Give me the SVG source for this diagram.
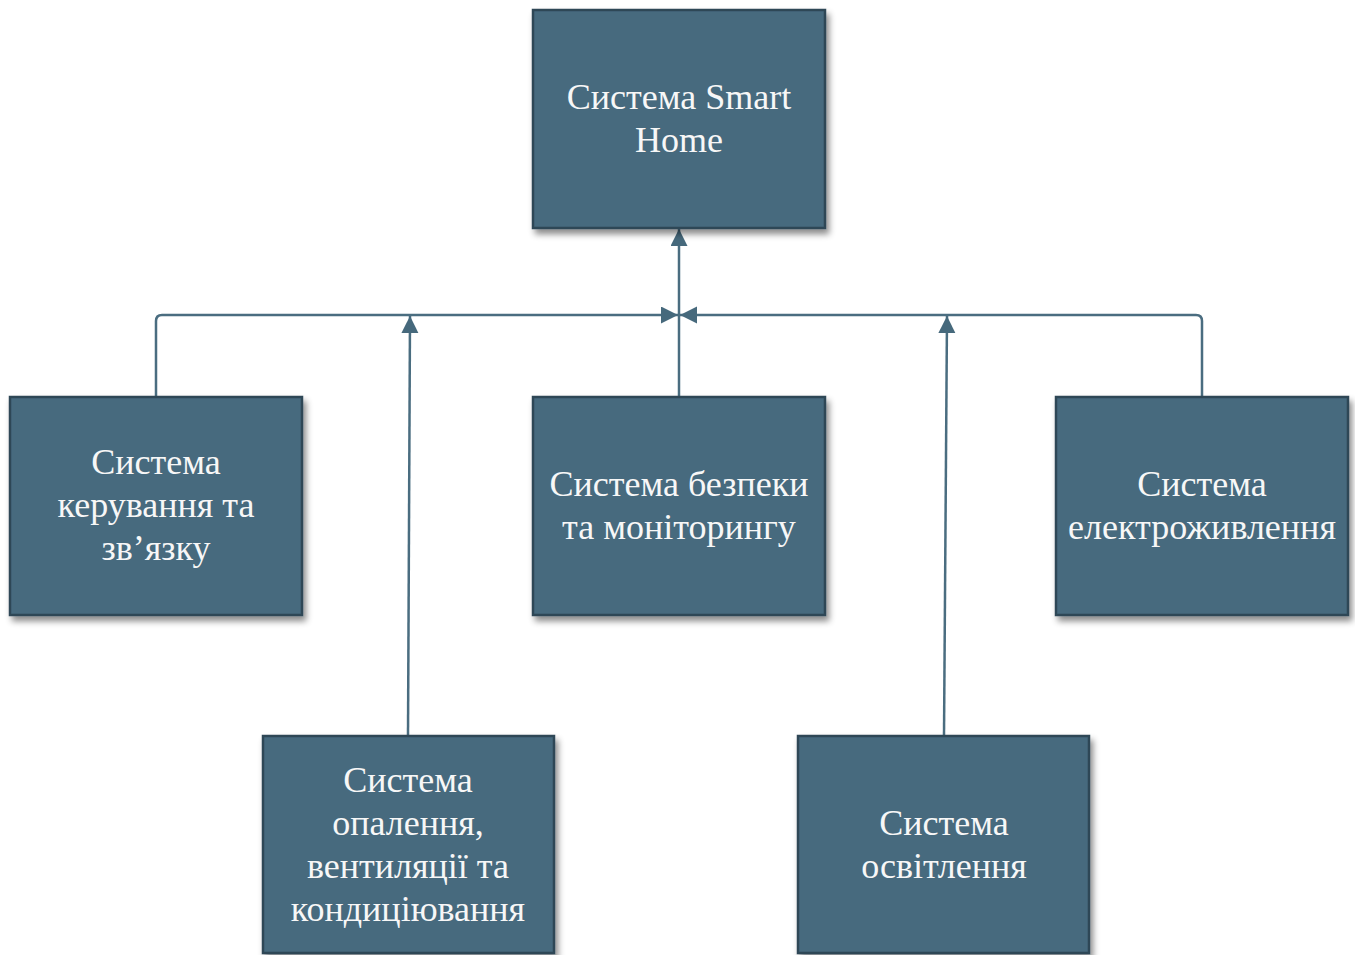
<svg xmlns="http://www.w3.org/2000/svg" width="1355" height="955" viewBox="0 0 1355 955">
  <style>
    .box { fill: #476a7e; stroke: #2d4757; stroke-width: 2.5; filter: url(#shadow); }
    .lbl { font-family: "Liberation Serif", "Times New Roman", serif; font-size: 36px; fill: #f7f7f7; text-anchor: middle; }
    .link { fill: none; stroke: #4a6d80; stroke-width: 2.5; marker-end: url(#arrow); }
  </style>
  <defs>
    <filter id="shadow" x="-10%" y="-10%" width="125%" height="125%">
      <feDropShadow dx="3" dy="5" stdDeviation="3" flood-color="#000" flood-opacity="0.45"/>
    </filter>
    <marker id="arrow" markerUnits="userSpaceOnUse" markerWidth="18" markerHeight="18" refX="17" refY="8.5" orient="auto">
      <path d="M0,0 L17,8.5 L0,17 z" fill="#46697c"/>
    </marker>
  </defs>

  <!-- connectors -->
  <g id="connectors">
    <path class="link" d="M156 397 V321 Q156 315 162 315 H678"/>
    <path class="link" d="M1202 397 V321 Q1202 315 1196 315 H680"/>
    <path class="link" d="M679 397 V229"/>
    <path class="link" d="M408 736 L410 316"/>
    <path class="link" d="M944 736 L947 316"/>
  </g>

  <!-- root node -->
  <g id="smart-home">
    <rect class="box" x="533" y="10" width="292" height="218"/>
    <text class="lbl" x="679" y="109">Система Smart</text>
    <text class="lbl" x="679" y="152">Home</text>
  </g>

  <g id="control">
    <rect class="box" x="10" y="397" width="292" height="218"/>
    <text class="lbl" x="156" y="474">Система</text>
    <text class="lbl" x="156" y="517">керування та</text>
    <text class="lbl" x="156" y="560">зв’язку</text>
  </g>

  <g id="security">
    <rect class="box" x="533" y="397" width="292" height="218"/>
    <text class="lbl" x="679" y="496">Система безпеки</text>
    <text class="lbl" x="679" y="539">та моніторингу</text>
  </g>

  <g id="power">
    <rect class="box" x="1056" y="397" width="292" height="218"/>
    <text class="lbl" x="1202" y="496">Система</text>
    <text class="lbl" x="1202" y="539">електроживлення</text>
  </g>

  <g id="hvac">
    <rect class="box" x="263" y="736" width="291" height="217"/>
    <text class="lbl" x="408" y="792">Система</text>
    <text class="lbl" x="408" y="835">опалення,</text>
    <text class="lbl" x="408" y="878">вентиляції та</text>
    <text class="lbl" x="408" y="921">кондиціювання</text>
  </g>

  <g id="lighting">
    <rect class="box" x="798" y="736" width="291" height="217"/>
    <text class="lbl" x="944" y="835">Система</text>
    <text class="lbl" x="944" y="878">освітлення</text>
  </g>
</svg>
